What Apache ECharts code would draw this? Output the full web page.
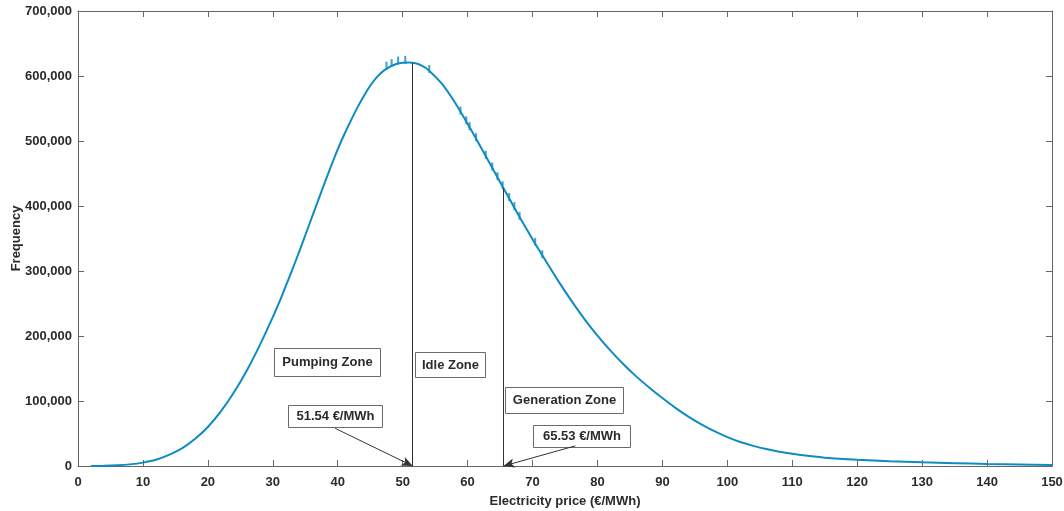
<!DOCTYPE html>
<html>
<head>
<meta charset="utf-8">
<title>Electricity price frequency distribution</title>
<script src="https://cdn.jsdelivr.net/npm/echarts@6/dist/echarts.min.js"></script>
<style>
  html, body { margin: 0; padding: 0; background: #ffffff; }
  #chart { width: 1064px; height: 511px; }
</style>
</head>
<body>
<div id="chart"></div>
<script>
// Price bins (€/MWh) and their frequency along the fitted distribution
const prices = [2, 4, 6, 8, 10, 12, 14, 16, 18, 20, 22, 24, 26, 28,
  30, 31, 32, 33, 34, 35, 36, 37, 38, 39, 40, 41, 42, 43, 44, 45, 46, 47, 48, 49,
  50, 51, 52, 53, 54, 56, 58, 60, 62, 64, 66, 68, 70, 72, 74, 76, 78, 80,
  82, 84, 86, 88, 90, 92, 94, 96, 98, 100, 102, 104, 106, 108, 110, 112, 115,
  120, 125, 130, 135, 140, 145, 150];
const frequency = [0, 300, 1000, 2500, 5200, 9500, 17000, 27000, 41500, 60000, 84000,
  113000, 147000, 186000,
  229000, 252000, 277000, 302000, 328000, 355000, 382000, 409000, 436000, 462000,
  487000, 510000, 531000, 551000, 569000, 585000, 598000, 607500, 614000, 618500,
  620500, 620800, 619500, 615500, 609000, 588500, 560000, 526500, 491000, 455000,
  419000, 383000, 349000, 316000, 284000, 254000, 226000, 200500,
  177500, 156500, 137500, 120500, 104500, 89500, 76000, 64000, 53500, 44500,
  37000, 31000, 26000, 22000, 18700, 16000, 12800,
  9600, 7400, 5700, 4300, 3100, 2200, 1500];

// Small spikes sitting on top of the curve (price, spike top)
const spikePrices = [47.5, 48.3, 49.3, 50.4, 54.1, 58.9, 59.8, 60.3, 61.3, 62.8, 63.8,
  64.6, 65.4, 66.4, 67.2, 68.0, 70.4, 71.5];
const spikeTops = [622000, 626000, 630000, 631000, 617000, 553000, 538000, 529000,
  512000, 485000, 467000, 452000, 438000, 420000, 406000, 391000, 351000, 332000];

// Zone thresholds (€/MWh) and the curve height where each boundary line stops
const thresholds = [51.54, 65.53];
const thresholdTops = [620000, 427000];
const thresholdLabels = ['51.54 €/MWh', '65.53 €/MWh'];
// Where each threshold callout arrow starts (price, frequency)
const calloutStarts = [[39.6, 58000], [76.6, 31000]];

const zoneLabels = ['Pumping Zone', 'Idle Zone', 'Generation Zone'];

const xTicks = { min: 0, max: 150, interval: 10 };
const yTicks = { min: 0, max: 700000, interval: 100000 };

const curveColor = '#0e8cc2';
const axisColor = '#666666';
const textColor = '#2b2b2b';
const fontFamily = 'Liberation Sans, Arial, sans-serif';

const curveData = prices.map((p, i) => [p, frequency[i]]);
const spikeData = spikePrices.map((p, i) => [p, spikeTops[i]]);

const markLines = [];
thresholds.forEach((t, i) => {
  markLines.push([
    { coord: [t, 0], symbol: 'none' },
    { coord: [t, thresholdTops[i]], symbol: 'none' }
  ]);
  markLines.push([
    { coord: calloutStarts[i], symbol: 'none' },
    { coord: [t, 0], symbol: 'arrow', symbolSize: [7, 11] }
  ]);
});

const chart = echarts.init(document.getElementById('chart'), null, { renderer: 'canvas' });

const tickLabelStyle = {
  color: textColor, fontWeight: 'bold', fontSize: 13, fontFamily: fontFamily
};

function boxedText(text, x, y, w, h) {
  return {
    type: 'group',
    left: x, top: y,
    children: [
      { type: 'rect', shape: { x: 0, y: 0, width: w, height: h },
        style: { fill: '#ffffff', stroke: '#6a6a6a', lineWidth: 1 } },
      { type: 'text', x: w / 2, y: h / 2,
        style: { text: text, fill: textColor, font: 'bold 13px ' + fontFamily,
                 align: 'center', verticalAlign: 'middle' } }
    ]
  };
}

const option = {
  backgroundColor: '#ffffff',
  animation: false,
  grid: { left: 78, right: 12, top: 11, bottom: 45, containLabel: false, outerBoundsMode: 'none' },
  xAxis: [
    {
      type: 'value', min: xTicks.min, max: xTicks.max, interval: xTicks.interval,
      name: 'Electricity price (€/MWh)', nameLocation: 'middle', nameGap: 29,
      nameMoveOverlap: false,
      nameTextStyle: { color: textColor, fontWeight: 'bold', fontSize: 13, fontFamily: fontFamily },
      axisLine: { show: true, onZero: false, lineStyle: { color: axisColor, width: 1 } },
      axisTick: { show: true, inside: true, length: 6, lineStyle: { color: axisColor } },
      axisLabel: Object.assign({ margin: 10 }, tickLabelStyle),
      splitLine: { show: false }
    },
    {
      type: 'value', position: 'top', min: xTicks.min, max: xTicks.max, interval: xTicks.interval,
      axisLine: { show: true, onZero: false, lineStyle: { color: axisColor, width: 1 } },
      axisTick: { show: true, inside: true, length: 6, lineStyle: { color: axisColor } },
      axisLabel: { show: false },
      splitLine: { show: false }
    }
  ],
  yAxis: [
    {
      type: 'value', min: yTicks.min, max: yTicks.max, interval: yTicks.interval,
      name: 'Frequency', nameLocation: 'middle', nameGap: 55,
      nameMoveOverlap: false,
      nameTextStyle: { color: textColor, fontWeight: 'bold', fontSize: 13, fontFamily: fontFamily },
      axisLine: { show: true, onZero: false, lineStyle: { color: axisColor, width: 1 } },
      axisTick: { show: true, inside: true, length: 6, lineStyle: { color: axisColor } },
      axisLabel: Object.assign({
        margin: 6,
        formatter: v => v.toLocaleString('en-US')
      }, tickLabelStyle),
      splitLine: { show: false }
    },
    {
      type: 'value', position: 'right', min: yTicks.min, max: yTicks.max, interval: yTicks.interval,
      axisLine: { show: true, onZero: false, lineStyle: { color: axisColor, width: 1 } },
      axisTick: { show: true, inside: true, length: 6, lineStyle: { color: axisColor } },
      axisLabel: { show: false },
      splitLine: { show: false }
    }
  ],
  series: [
    {
      name: 'Frequency',
      type: 'line',
      data: curveData,
      smooth: 0.3,
      showSymbol: false,
      symbol: 'none',
      lineStyle: { color: curveColor, width: 2 },
      z: 3,
      markLine: {
        silent: true,
        symbol: ['none', 'none'],
        label: { show: false },
        lineStyle: { color: '#333333', width: 1, type: 'solid' },
        data: markLines,
        z: 4
      }
    },
    {
      name: 'Spikes',
      type: 'scatter',
      data: spikeData,
      symbol: 'rect',
      symbolSize: [2, 8],
      symbolOffset: [0, 4],
      itemStyle: { color: curveColor },
      z: 3
    }
  ],
  graphic: [
    boxedText(zoneLabels[0], 274, 348, 106, 28),
    boxedText(zoneLabels[1], 415, 352, 70, 25),
    boxedText(zoneLabels[2], 505, 387, 118, 26),
    boxedText(thresholdLabels[0], 288, 405, 94, 22),
    boxedText(thresholdLabels[1], 533, 425, 97, 22)
  ]
};

chart.setOption(option);
</script>
</body>
</html>
